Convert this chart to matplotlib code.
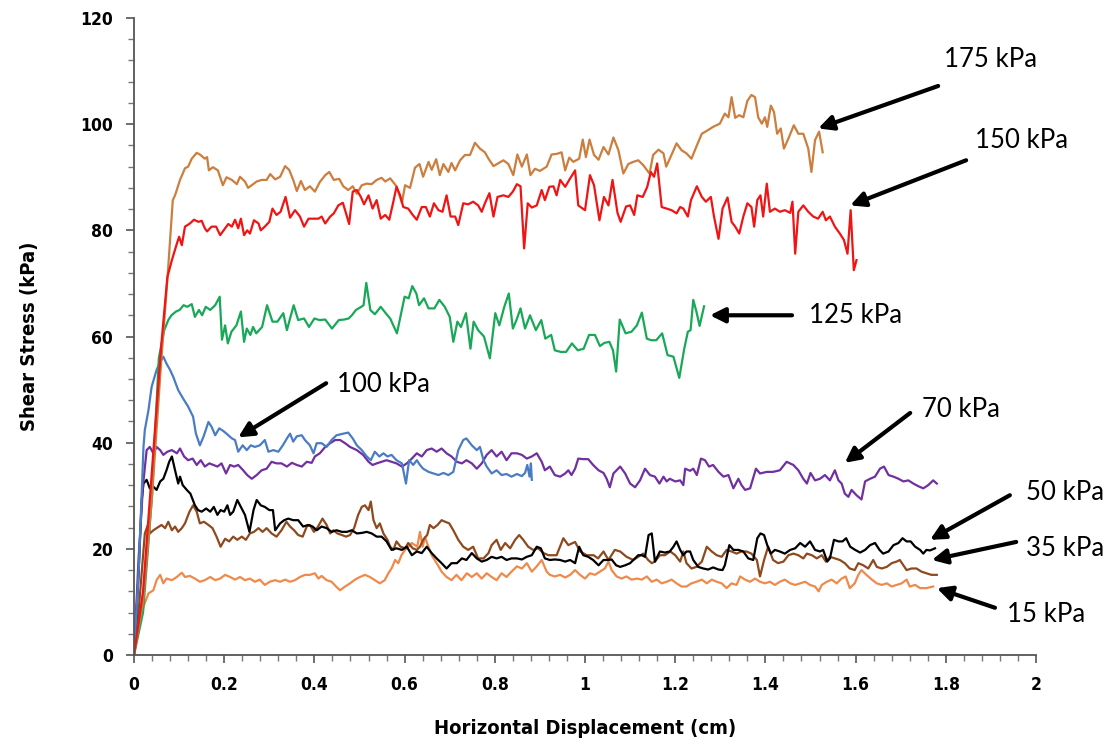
import matplotlib
matplotlib.use('Agg')
import matplotlib.pyplot as plt
import numpy as np
from matplotlib.ticker import MultipleLocator

# ---- data (x = displacement in cm, y = shear stress in kPa)
pts_175 = [(0, 0), (0.02, 10), (0.04, 30), (0.06, 55), (0.075, 72), (0.086, 85.7), (0.091, 86.6), (0.102, 89.5),
           (0.113, 91.7), (0.12, 92), (0.128, 93.5), (0.139, 94.6), (0.146, 94.3), (0.157, 93.5), (0.162, 93.8),
           (0.166, 91.3), (0.175, 91.9), (0.186, 91.3), (0.197, 88.5), (0.205, 90), (0.217, 89.5), (0.228, 88.7),
           (0.235, 90.1), (0.246, 89.2), (0.253, 88), (0.261, 88.5), (0.272, 89.2), (0.283, 89.5), (0.294, 89.5),
           (0.302, 90.6), (0.313, 89.6), (0.324, 90.1), (0.335, 92.1), (0.344, 91.4), (0.353, 89.5), (0.361, 87.4),
           (0.37, 89.3), (0.379, 87.6), (0.39, 88.3), (0.401, 87.3), (0.412, 89.1), (0.424, 90.4), (0.433, 91),
           (0.443, 89.5), (0.455, 89.7), (0.464, 88.3), (0.475, 87.6), (0.485, 88.3), (0.494, 86.9), (0.505, 88.5),
           (0.516, 88.8), (0.527, 88.7), (0.538, 89.5), (0.549, 89.9), (0.557, 89.2), (0.568, 89.8), (0.582, 88.3),
           (0.594, 85.2), (0.601, 88.5), (0.612, 88), (0.623, 91.8), (0.633, 92.5), (0.641, 90.1), (0.653, 92.9),
           (0.66, 91.4), (0.67, 93.4), (0.678, 90.4), (0.686, 92.5), (0.697, 91), (0.704, 92.7), (0.712, 91.3),
           (0.723, 93.2), (0.734, 94.2), (0.745, 94.2), (0.756, 96.5), (0.767, 95.4), (0.778, 94.7), (0.786, 93.5),
           (0.797, 92.1), (0.819, 93.2), (0.83, 92.5), (0.841, 90.4), (0.85, 94.3), (0.86, 92), (0.871, 94.3),
           (0.879, 90.4), (0.889, 91.6), (0.9, 91.2), (0.915, 92), (0.926, 94.3), (0.937, 94.4), (0.948, 94.7),
           (0.956, 91.3), (0.965, 93.7), (0.974, 92.9), (0.987, 93.5), (0.995, 97.1), (1.002, 93.8), (1.01, 97.1),
           (1.02, 94.2), (1.03, 93.3), (1.041, 95.7), (1.052, 94.3), (1.063, 97.5), (1.074, 95.1), (1.085, 90.7),
           (1.096, 92.5), (1.107, 92.9), (1.118, 93.2), (1.129, 92.3), (1.143, 90.7), (1.151, 94.2), (1.163, 95.2),
           (1.174, 94.5), (1.18, 92), (1.188, 93.5), (1.203, 96.4), (1.214, 95.1), (1.225, 94.5), (1.236, 93.5),
           (1.248, 96), (1.259, 98.2), (1.273, 98.9), (1.284, 99.5), (1.299, 100.1), (1.31, 102), (1.318, 101.3),
           (1.325, 105.1), (1.333, 101.2), (1.342, 101.7), (1.351, 101.3), (1.36, 104.4), (1.369, 105.5),
           (1.377, 105.1), (1.384, 101.3), (1.392, 100.1), (1.399, 101.3), (1.404, 99.5), (1.412, 103.5),
           (1.419, 102.3), (1.426, 98.2), (1.434, 99.2), (1.441, 95.4), (1.451, 97.3), (1.463, 99.8), (1.473, 98.2),
           (1.484, 98.2), (1.495, 95.4), (1.502, 91), (1.51, 97), (1.519, 98.6), (1.527, 94.7)]

pts_150 = [(0, 0), (0.02, 12), (0.04, 35), (0.06, 58), (0.074, 71.2), (0.084, 74.4), (0.095, 77.5), (0.1, 78.8),
           (0.106, 77.2), (0.113, 80.7), (0.124, 81.3), (0.133, 82), (0.143, 81.6), (0.15, 81.8), (0.157, 80.4),
           (0.162, 79.8), (0.172, 80.7), (0.182, 80.7), (0.191, 79.1), (0.202, 80.4), (0.209, 81.2), (0.217, 80.7),
           (0.224, 82), (0.231, 80.4), (0.237, 82.2), (0.244, 79.1), (0.251, 80), (0.257, 79.4), (0.266, 81.9),
           (0.276, 81.3), (0.281, 80), (0.29, 80.7), (0.3, 81.6), (0.307, 84.1), (0.316, 82.9), (0.325, 83.5),
           (0.336, 86.3), (0.346, 82.4), (0.357, 83.8), (0.368, 82.6), (0.377, 80.7), (0.387, 82.2), (0.398, 82.2),
           (0.409, 82.2), (0.416, 82.6), (0.424, 81.3), (0.435, 82.6), (0.443, 83.2), (0.453, 84.7), (0.463, 85.2),
           (0.468, 83.8), (0.477, 81.2), (0.485, 87.3), (0.494, 87.6), (0.503, 86.3), (0.51, 84.9), (0.52, 86.6),
           (0.529, 84.1), (0.538, 85.7), (0.547, 82.2), (0.557, 82.9), (0.566, 82), (0.575, 85.4), (0.582, 88.2),
           (0.59, 86.6), (0.597, 84.4), (0.608, 84.1), (0.618, 82.9), (0.627, 82), (0.638, 84.4), (0.647, 84.4),
           (0.656, 82.6), (0.665, 85.1), (0.675, 83.8), (0.684, 83.5), (0.693, 86.6), (0.702, 82.6), (0.712, 82.6),
           (0.719, 81), (0.73, 85.1), (0.741, 84.9), (0.752, 85.4), (0.763, 84.7), (0.771, 83.5), (0.778, 85.1),
           (0.788, 87), (0.797, 82.6), (0.806, 86.3), (0.819, 86.6), (0.83, 86.3), (0.84, 87.3), (0.849, 88.7),
           (0.857, 88.3), (0.865, 76.6), (0.873, 85.1), (0.882, 84.3), (0.893, 84.7), (0.904, 87.6), (0.911, 85.7),
           (0.921, 88.2), (0.93, 88.3), (0.937, 86.6), (0.945, 89.5), (0.956, 88.2), (0.965, 89.5), (0.978, 91.3),
           (0.985, 84.7), (1.0, 83.8), (1.011, 90.4), (1.02, 88.5), (1.032, 81.9), (1.042, 86.3), (1.052, 84.7),
           (1.061, 89.5), (1.072, 83.3), (1.079, 81.6), (1.091, 84.5), (1.1, 84.7), (1.109, 82.9), (1.116, 86.6),
           (1.128, 86.3), (1.138, 88.2), (1.146, 91), (1.153, 90.1), (1.16, 92.6), (1.17, 84.4), (1.181, 84.1),
           (1.192, 83.8), (1.203, 83.2), (1.211, 84.4), (1.218, 84.1), (1.228, 82.6), (1.235, 85.7), (1.248, 88.3),
           (1.259, 86.3), (1.268, 85.4), (1.279, 86.3), (1.286, 82.6), (1.296, 78.4), (1.305, 84.1), (1.316, 86.2),
           (1.325, 81.6), (1.333, 80.7), (1.342, 79.4), (1.351, 82.6), (1.36, 85.1), (1.369, 84.4), (1.375, 80.7),
           (1.382, 85.7), (1.389, 86.6), (1.395, 82.6), (1.403, 88.8), (1.41, 83.5), (1.421, 84.1), (1.432, 83.5),
           (1.443, 83.8), (1.455, 83.3), (1.46, 85.4), (1.466, 75.6), (1.473, 83.5), (1.484, 84.7), (1.495, 83.5),
           (1.506, 82.6), (1.517, 82.2), (1.527, 83.5), (1.534, 81.9), (1.543, 82.6), (1.554, 80.7), (1.565, 79.4),
           (1.574, 78.2), (1.582, 75.6), (1.589, 83.8), (1.596, 72.5), (1.602, 74.4)]

pts_125 = [(0, 0), (0.02, 8), (0.04, 30), (0.055, 55.9), (0.067, 61.2), (0.076, 63.1), (0.083, 64), (0.093, 64.7),
           (0.101, 65), (0.11, 65.9), (0.118, 65.6), (0.128, 66.1), (0.135, 63.7), (0.144, 65), (0.151, 64),
           (0.159, 65.6), (0.169, 65), (0.18, 65.9), (0.19, 67.5), (0.195, 59.4), (0.202, 62.1), (0.208, 58.7),
           (0.216, 60.9), (0.227, 62.1), (0.237, 64.7), (0.244, 59), (0.25, 61.5), (0.258, 60.3), (0.264, 61.8),
           (0.271, 60.6), (0.284, 61.8), (0.295, 65.9), (0.307, 62.8), (0.318, 62.8), (0.331, 64.4), (0.339, 61.2),
           (0.354, 65.9), (0.364, 63.1), (0.377, 63.4), (0.388, 61.8), (0.4, 63.4), (0.411, 63.1), (0.424, 63.2),
           (0.439, 61.5), (0.454, 63.1), (0.466, 63.2), (0.476, 63.4), (0.483, 64), (0.492, 65), (0.504, 65.6),
           (0.509, 65.9), (0.515, 70.1), (0.524, 65), (0.534, 64.2), (0.547, 65.6), (0.558, 64.4), (0.568, 63.4),
           (0.583, 60.6), (0.6, 67.5), (0.609, 67.2), (0.617, 69.5), (0.626, 68.1), (0.632, 65.9), (0.643, 67.2),
           (0.653, 65.3), (0.666, 65.3), (0.677, 66.9), (0.689, 65.6), (0.7, 63.7), (0.708, 59), (0.717, 62.8),
           (0.725, 61.8), (0.736, 64.4), (0.746, 57.7), (0.753, 62.8), (0.763, 61.2), (0.776, 60), (0.789, 55.9),
           (0.801, 64.4), (0.81, 62.1), (0.821, 65.6), (0.831, 68.1), (0.84, 61.5), (0.848, 63.1), (0.857, 65.3),
           (0.867, 61.5), (0.878, 64), (0.891, 61.2), (0.903, 63.1), (0.912, 59.6), (0.925, 60.3), (0.933, 57.4),
           (0.946, 57.1), (0.958, 57.1), (0.971, 58.7), (0.984, 57.4), (0.997, 57.7), (1.009, 60.3), (1.022, 60.3),
           (1.033, 58.2), (1.043, 58.8), (1.054, 59), (1.062, 57.4), (1.069, 53.4), (1.077, 63.2), (1.09, 60.6),
           (1.103, 60.9), (1.115, 62.1), (1.126, 64.5), (1.137, 59.6), (1.147, 59.3), (1.158, 59.3), (1.171, 60.6),
           (1.183, 56.5), (1.196, 56.2), (1.209, 52.2), (1.22, 57.7), (1.228, 60.9), (1.234, 61.2), (1.24, 66.9),
           (1.247, 64.7), (1.254, 62), (1.264, 65.7)]

pts_100 = [(0, 0), (0.01, 15), (0.021, 39.2), (0.024, 42.4), (0.032, 46.1), (0.039, 50.5), (0.05, 53.7),
           (0.058, 55.2), (0.065, 56.2), (0.072, 54.9), (0.08, 53.7), (0.087, 52.4), (0.098, 49.9), (0.109, 48.3),
           (0.12, 46.8), (0.131, 44.9), (0.137, 41.8), (0.146, 39.5), (0.154, 41.1), (0.165, 43.9), (0.172, 43),
           (0.18, 41.4), (0.189, 42.7), (0.198, 42.2), (0.205, 41.7), (0.217, 40.8), (0.224, 40.5), (0.231, 38.3),
           (0.241, 39.5), (0.25, 38.6), (0.259, 39.5), (0.268, 39.2), (0.279, 39.5), (0.29, 40.5), (0.298, 38.3),
           (0.309, 38.6), (0.32, 38.3), (0.33, 39.5), (0.339, 40.8), (0.346, 41.7), (0.353, 40.2), (0.361, 41.2),
           (0.372, 41.4), (0.379, 40.5), (0.39, 39.5), (0.398, 38), (0.405, 39.9), (0.416, 39.9), (0.427, 39.2),
           (0.438, 40.5), (0.449, 41.4), (0.464, 41.7), (0.475, 41.9), (0.485, 40.8), (0.494, 39.5), (0.505, 38.6),
           (0.516, 37.4), (0.525, 36.7), (0.534, 38.3), (0.544, 37.4), (0.553, 38), (0.562, 37.4), (0.571, 37.7),
           (0.582, 36.7), (0.594, 36.1), (0.603, 32.3), (0.61, 36.7), (0.619, 35.8), (0.627, 36.7), (0.634, 35.8),
           (0.641, 35.1), (0.653, 34.5), (0.664, 34.2), (0.675, 33.9), (0.686, 34.3), (0.697, 33.9), (0.708, 34.5),
           (0.719, 38.6), (0.73, 40.5), (0.737, 40.8), (0.749, 39.5), (0.76, 38.6), (0.767, 39.2), (0.775, 36.7),
           (0.782, 35.5), (0.793, 34.2), (0.804, 34.8), (0.815, 33.9), (0.826, 34.1), (0.837, 33.6), (0.849, 34.1),
           (0.86, 33.7), (0.867, 34.3), (0.872, 35.8), (0.877, 33.6), (0.88, 36.1), (0.882, 33)]

pts_70 = [(0, 0), (0.01, 18), (0.02, 32), (0.028, 38.6), (0.035, 39.2), (0.043, 38), (0.05, 39.2), (0.058, 38.6),
          (0.065, 37.7), (0.074, 38.3), (0.084, 38.6), (0.095, 38), (0.102, 38.9), (0.111, 37.4), (0.12, 36.7),
          (0.13, 37), (0.139, 35.8), (0.148, 36.7), (0.157, 35.5), (0.167, 36.1), (0.176, 35.8), (0.185, 35.5),
          (0.194, 36.1), (0.204, 34.2), (0.213, 35.8), (0.222, 35.5), (0.231, 35.8), (0.242, 34.8), (0.251, 33.9),
          (0.261, 33.2), (0.272, 33.9), (0.283, 34.8), (0.294, 35.1), (0.305, 36.4), (0.316, 36.1), (0.327, 36.1),
          (0.339, 35.5), (0.35, 36.2), (0.361, 35.8), (0.372, 35.5), (0.383, 36.4), (0.394, 36.2), (0.401, 37.4),
          (0.412, 38), (0.424, 39.2), (0.435, 39.9), (0.446, 40.5), (0.457, 40.5), (0.468, 39.9), (0.479, 39.2),
          (0.494, 38.6), (0.508, 37.7), (0.52, 36.4), (0.529, 35.8), (0.538, 36.1), (0.549, 36.4), (0.56, 36.7),
          (0.571, 36.4), (0.582, 36.1), (0.594, 35.5), (0.605, 36.1), (0.616, 37), (0.627, 38), (0.638, 37.4),
          (0.649, 38.6), (0.66, 38.9), (0.671, 38.3), (0.682, 38.9), (0.693, 38), (0.704, 37.4), (0.716, 36.4),
          (0.727, 36.1), (0.737, 36.7), (0.749, 36.1), (0.76, 35.1), (0.771, 36.1), (0.782, 37.7), (0.793, 38.6),
          (0.804, 37.4), (0.815, 38.3), (0.826, 36.7), (0.837, 38), (0.849, 38), (0.86, 37.7), (0.871, 37),
          (0.882, 37.4), (0.893, 38), (0.904, 36.4), (0.911, 34.8), (0.922, 35.5), (0.933, 33.9), (0.945, 33.6),
          (0.956, 34.2), (0.963, 34.8), (0.97, 33.9), (0.978, 35.1), (0.985, 37), (0.996, 36.9), (1.007, 36.9),
          (1.018, 35.8), (1.03, 34.8), (1.041, 34.3), (1.048, 33.2), (1.055, 31.6), (1.063, 34.2), (1.078, 35.5),
          (1.089, 34.2), (1.1, 32.3), (1.111, 31.6), (1.122, 32.9), (1.133, 35.1), (1.144, 33.9), (1.155, 33.6),
          (1.165, 32.3), (1.174, 33.6), (1.181, 32.7), (1.188, 33.2), (1.2, 32.7), (1.211, 32.9), (1.218, 32),
          (1.222, 35.1), (1.233, 34.7), (1.24, 35.1), (1.248, 33.9), (1.257, 37), (1.266, 36.7), (1.275, 35.5),
          (1.284, 35.8), (1.296, 34.5), (1.307, 33.6), (1.318, 33.9), (1.329, 31.4), (1.34, 33.2), (1.347, 32),
          (1.355, 31.1), (1.366, 31.4), (1.379, 35.1), (1.388, 34.2), (1.403, 34.5), (1.417, 34.5), (1.432, 34.8),
          (1.447, 36.4), (1.462, 35.8), (1.473, 34.8), (1.484, 33.2), (1.492, 32.3), (1.5, 34.3), (1.51, 32.9),
          (1.521, 33.2), (1.532, 33.9), (1.543, 32.9), (1.554, 34.8), (1.562, 32.9), (1.569, 32.3), (1.576, 30.4),
          (1.584, 29.8), (1.591, 31.1), (1.602, 30.1), (1.613, 29.3), (1.621, 32.7), (1.632, 33.2), (1.643, 33.6),
          (1.654, 35.1), (1.663, 35.5), (1.673, 33.9), (1.684, 33.6), (1.695, 33.2), (1.706, 32.7), (1.717, 32.9),
          (1.728, 32.3), (1.739, 31.8), (1.75, 31.4), (1.761, 32), (1.772, 32.9), (1.78, 32.3)]

pts_50 = [(0, 0), (0.01, 15), (0.017, 29.2), (0.021, 32.3), (0.028, 33), (0.035, 31.4), (0.043, 31.7), (0.05, 31.1),
          (0.058, 32.7), (0.065, 33.2), (0.072, 34.8), (0.078, 36.4), (0.084, 37.4), (0.091, 34.8), (0.098, 32.3),
          (0.102, 33.6), (0.108, 32), (0.117, 31.1), (0.125, 30.4), (0.135, 28.2), (0.142, 27.3), (0.15, 27),
          (0.16, 27.6), (0.169, 27), (0.177, 27.9), (0.185, 26.4), (0.192, 27.3), (0.2, 27), (0.207, 28.2),
          (0.213, 26.4), (0.22, 27), (0.229, 29.2), (0.237, 27.9), (0.246, 26.4), (0.256, 23.2), (0.265, 27.3),
          (0.272, 29.2), (0.281, 28.2), (0.29, 27.9), (0.3, 27.3), (0.308, 27.3), (0.313, 23.5), (0.324, 24.8),
          (0.333, 25.4), (0.342, 25.7), (0.353, 25.4), (0.364, 25.4), (0.375, 24.2), (0.386, 24.5), (0.396, 24.2),
          (0.405, 23.5), (0.416, 24.2), (0.427, 23.9), (0.438, 23.2), (0.449, 23.5), (0.461, 23.2), (0.472, 23.2),
          (0.483, 23.5), (0.494, 22.9), (0.505, 23), (0.516, 23.2), (0.527, 22.9), (0.538, 22.3), (0.549, 22.3),
          (0.56, 21.4), (0.571, 19.8), (0.582, 20.1), (0.594, 19.8), (0.605, 20.4), (0.616, 18.8), (0.627, 19.5),
          (0.638, 19.2), (0.649, 20.4), (0.66, 19.2), (0.671, 18.2), (0.682, 17.3), (0.693, 16.3), (0.704, 17.3),
          (0.716, 17.3), (0.727, 18.2), (0.737, 17.9), (0.749, 19.2), (0.76, 18.2), (0.771, 17.6), (0.782, 17.9),
          (0.793, 18.5), (0.804, 18.2), (0.815, 18.5), (0.826, 17.9), (0.837, 18.2), (0.849, 18.2), (0.86, 18),
          (0.871, 18.5), (0.882, 18.8), (0.893, 20.4), (0.902, 20.1), (0.911, 18.2), (0.922, 17.9), (0.933, 18),
          (0.945, 17.9), (0.956, 17.6), (0.967, 17.9), (0.978, 17.3), (0.987, 20.4), (0.996, 18.8), (1.007, 18.5),
          (1.018, 17.9), (1.03, 16.9), (1.041, 17.9), (1.052, 17.9), (1.059, 18), (1.069, 16.9), (1.078, 16.6),
          (1.089, 16.9), (1.1, 17.3), (1.111, 18.2), (1.118, 18.8), (1.126, 18.8), (1.133, 18.5), (1.141, 22.6),
          (1.148, 22.9), (1.155, 17.6), (1.166, 19.5), (1.177, 19.3), (1.188, 19.5), (1.196, 20.4), (1.203, 21.4),
          (1.211, 19.8), (1.218, 18.8), (1.225, 19.5), (1.233, 19.5), (1.24, 17.9), (1.251, 16.6), (1.262, 16.3),
          (1.273, 16.1), (1.284, 16.5), (1.296, 16.1), (1.305, 16), (1.31, 16.9), (1.32, 20.7), (1.329, 19.8),
          (1.34, 19.8), (1.351, 19.5), (1.362, 18.2), (1.373, 17.9), (1.382, 22), (1.389, 22.9), (1.397, 22.6),
          (1.404, 20.7), (1.412, 19.1), (1.421, 19.8), (1.432, 19.5), (1.443, 19.1), (1.455, 19.8), (1.466, 20.1),
          (1.477, 21.1), (1.488, 20.4), (1.499, 21.4), (1.51, 19.8), (1.521, 19.5), (1.528, 19.8), (1.537, 17.6),
          (1.543, 18.2), (1.552, 21.7), (1.562, 21.4), (1.571, 21.4), (1.579, 22), (1.588, 20.4), (1.599, 19.8),
          (1.61, 19.3), (1.621, 19.8), (1.632, 20.7), (1.643, 21.1), (1.653, 19.8), (1.661, 19.1), (1.673, 19.5),
          (1.684, 20.7), (1.695, 21.1), (1.704, 22), (1.713, 21.4), (1.722, 21.4), (1.732, 20.4), (1.743, 19.8),
          (1.75, 19.1), (1.757, 19.8), (1.765, 19.7), (1.776, 20.1)]

pts_35 = [(0, 0), (0.01, 8), (0.024, 22.9), (0.032, 24.8), (0.035, 22.9), (0.043, 23.5), (0.05, 23.9), (0.061, 24.5),
          (0.069, 23.9), (0.076, 25.1), (0.084, 23.5), (0.091, 24.2), (0.098, 23.2), (0.106, 23.9), (0.113, 24.8),
          (0.123, 27), (0.131, 28.2), (0.139, 27), (0.146, 24.8), (0.155, 25.1), (0.165, 24.5), (0.174, 23.9),
          (0.183, 22.3), (0.192, 20.4), (0.202, 21.9), (0.211, 21.4), (0.22, 22.3), (0.229, 21.7), (0.239, 22.3),
          (0.248, 21.7), (0.257, 22.9), (0.266, 23.2), (0.276, 23.9), (0.285, 23.2), (0.294, 23.9), (0.305, 22.9),
          (0.316, 22.3), (0.327, 23.5), (0.338, 25.1), (0.346, 24.2), (0.355, 23.5), (0.364, 22.6), (0.374, 22.3),
          (0.383, 24.2), (0.39, 24.5), (0.399, 23.2), (0.408, 24.2), (0.418, 25.7), (0.427, 24.5), (0.435, 22.9),
          (0.442, 23.5), (0.451, 22.9), (0.461, 22.6), (0.47, 22.3), (0.479, 22.6), (0.488, 23.9), (0.497, 26.4),
          (0.505, 27.9), (0.512, 28.2), (0.52, 27.3), (0.525, 28.9), (0.531, 25.4), (0.538, 23.9), (0.545, 24.8),
          (0.553, 22.9), (0.562, 21.7), (0.568, 20.4), (0.575, 19.8), (0.582, 21.4), (0.591, 20.4), (0.601, 20.1),
          (0.608, 21.1), (0.618, 20.1), (0.627, 19.8), (0.634, 20.4), (0.641, 21.7), (0.65, 22.6), (0.656, 24.5),
          (0.664, 23.9), (0.673, 24.5), (0.682, 25.4), (0.69, 25.1), (0.699, 24.8), (0.708, 23.5), (0.719, 21.7),
          (0.73, 20.4), (0.741, 19.8), (0.752, 20.4), (0.763, 18.2), (0.775, 18.2), (0.786, 19.2), (0.793, 20.7),
          (0.804, 21.7), (0.813, 19.8), (0.823, 21.1), (0.834, 20.1), (0.845, 21.7), (0.854, 22.6), (0.863, 21.7),
          (0.874, 20.4), (0.885, 19.8), (0.896, 20.1), (0.908, 19.2), (0.919, 18.8), (0.937, 18.8), (0.952, 22),
          (0.963, 20.7), (0.978, 21.3), (0.989, 19.5), (1.004, 18.8), (1.019, 18.8), (1.029, 18.2), (1.041, 19.5),
          (1.052, 17.9), (1.066, 19.8), (1.078, 19.5), (1.092, 18.5), (1.107, 17.9), (1.118, 18.5), (1.129, 19.1),
          (1.14, 17.9), (1.148, 17.3), (1.155, 17.6), (1.166, 18.8), (1.177, 18.8), (1.189, 19.5), (1.2, 18.8),
          (1.211, 17.6), (1.218, 19.5), (1.225, 17.3), (1.236, 16.3), (1.247, 16.6), (1.259, 17.6), (1.27, 20.4),
          (1.281, 19.5), (1.292, 18.8), (1.303, 18.5), (1.314, 19.8), (1.325, 19.5), (1.336, 19.1), (1.347, 19.5),
          (1.358, 19.5), (1.369, 19.1), (1.381, 17.9), (1.388, 14.8), (1.397, 17.9), (1.406, 20.4), (1.417, 17.9),
          (1.428, 17.3), (1.44, 17.6), (1.451, 18.8), (1.462, 19.1), (1.473, 18.8), (1.484, 18.2), (1.492, 19.1),
          (1.503, 18.8), (1.514, 18.2), (1.525, 18.8), (1.534, 17.6), (1.543, 18.5), (1.554, 18.2), (1.565, 17.9),
          (1.576, 17.3), (1.587, 16.3), (1.598, 16), (1.606, 17.3), (1.617, 16.9), (1.628, 16.3), (1.639, 17.9),
          (1.647, 16.6), (1.658, 16.3), (1.669, 16.6), (1.68, 17.3), (1.691, 17.6), (1.698, 17.9), (1.706, 16.9),
          (1.713, 16), (1.724, 16.3), (1.735, 16.3), (1.746, 15.7), (1.757, 15.4), (1.768, 15.1), (1.78, 15.1)]

pts_15 = [(0, 0), (0.006, 3.4), (0.021, 9.1), (0.032, 11.6), (0.043, 12.2), (0.05, 14.1), (0.058, 15.1), (0.065, 13.5),
          (0.072, 14.4), (0.084, 14.1), (0.095, 14.7), (0.106, 15.5), (0.113, 14.7), (0.124, 14.9), (0.135, 14.4),
          (0.146, 13.8), (0.157, 14.1), (0.169, 14.7), (0.18, 14.1), (0.191, 14.4), (0.202, 15.1), (0.213, 14.7),
          (0.224, 14.2), (0.235, 14.7), (0.246, 14.1), (0.257, 14.4), (0.268, 13.8), (0.279, 14.2), (0.29, 13.2),
          (0.301, 13.8), (0.313, 14.1), (0.324, 13.8), (0.335, 14.2), (0.346, 13.8), (0.357, 14.1), (0.368, 14.7),
          (0.379, 15.1), (0.39, 15.1), (0.401, 15.4), (0.409, 14.4), (0.416, 14.9), (0.427, 14.1), (0.438, 13.8),
          (0.448, 12.9), (0.457, 12.2), (0.468, 12.9), (0.479, 13.5), (0.49, 14.2), (0.501, 14.7), (0.512, 15.1),
          (0.523, 14.7), (0.534, 14.1), (0.545, 13.5), (0.556, 14.1), (0.564, 15.4), (0.571, 16.3), (0.579, 17.9),
          (0.586, 17.3), (0.593, 18.8), (0.601, 19.8), (0.608, 20.4), (0.616, 21.1), (0.623, 20.7), (0.628, 20.4),
          (0.634, 23.2), (0.64, 20.4), (0.645, 22.2), (0.653, 20.4), (0.66, 18.8), (0.671, 17.3), (0.682, 15.7),
          (0.693, 14.7), (0.704, 14.1), (0.715, 15.1), (0.726, 14.1), (0.738, 15.4), (0.749, 14.7), (0.76, 15.4),
          (0.771, 14.4), (0.782, 15.4), (0.793, 14.7), (0.804, 14.1), (0.815, 15.4), (0.826, 14.7), (0.837, 15.7),
          (0.849, 16.7), (0.86, 16.3), (0.871, 17.3), (0.882, 15.7), (0.893, 16.7), (0.904, 17.9), (0.915, 15.7),
          (0.922, 15.1), (0.933, 14.8), (0.945, 15.1), (0.956, 14.6), (0.967, 15.1), (0.978, 16), (0.989, 15.1),
          (1.0, 14.4), (1.011, 15.4), (1.022, 15.1), (1.033, 15.7), (1.044, 16.3), (1.052, 17.6), (1.059, 16),
          (1.07, 14.8), (1.081, 14.4), (1.092, 14.8), (1.103, 14.2), (1.115, 14.4), (1.126, 14.2), (1.137, 14.8),
          (1.148, 13.8), (1.159, 14.2), (1.17, 13.5), (1.181, 13.8), (1.192, 14.2), (1.203, 13.5), (1.214, 12.9),
          (1.225, 12.9), (1.236, 13.5), (1.247, 13.8), (1.259, 14.2), (1.27, 13.5), (1.281, 14.2), (1.292, 13.8),
          (1.303, 13.5), (1.314, 12.6), (1.325, 13.5), (1.336, 13.2), (1.344, 14.8), (1.355, 14.2), (1.366, 13.8),
          (1.377, 14.4), (1.388, 13.8), (1.399, 13.5), (1.41, 13.8), (1.421, 13.2), (1.432, 13.8), (1.443, 14.2),
          (1.455, 13.5), (1.466, 13.2), (1.477, 13.5), (1.488, 13.8), (1.499, 13.2), (1.51, 12.9), (1.518, 12),
          (1.525, 13.2), (1.536, 13.8), (1.547, 14.2), (1.558, 13.5), (1.569, 14.4), (1.578, 14.8), (1.587, 12.6),
          (1.598, 13.5), (1.606, 15.1), (1.613, 16), (1.624, 15.1), (1.636, 14.2), (1.647, 13.5), (1.658, 13.2),
          (1.669, 13.5), (1.68, 12.9), (1.691, 13.2), (1.702, 13.5), (1.713, 14.2), (1.72, 12.9), (1.732, 13.2),
          (1.743, 12.6), (1.757, 12.6), (1.772, 12.9)]

# series drawn bottom -> top
series = [
    (pts_15, '#EE8A4C'),
    (pts_35, '#8E4A1E'),
    (pts_50, '#000000'),
    (pts_70, '#7030A0'),
    (pts_100, '#4A7CC4'),
    (pts_125, '#19A857'),
    (pts_175, '#CC7E3E'),
    (pts_150, '#F01414'),
]

# labels: text, text position, arrow tail, arrow head (data units)
labels = ['175 kPa', '150 kPa', '125 kPa', '100 kPa', '70 kPa', '50 kPa', '35 kPa', '15 kPa']
label_xy = [(1.90, 112.1), (1.967, 97.0), (1.60, 64.0), (0.552, 51.0), (1.834, 46.3), (2.064, 30.7), (2.064, 20.0), (2.022, 7.7)]
arrow_tail = [(1.783, 107.2), (1.845, 93.2), (1.459, 64.0), (0.426, 51.2), (1.721, 45.6), (1.942, 30.1), (1.956, 21.3), (1.909, 8.9)]
arrow_head = [(1.517, 99.2), (1.588, 84.7), (1.277, 64.0), (0.231, 41.0), (1.576, 36.2), (1.765, 21.7), (1.769, 17.9), (1.78, 12.6)]

tick_font = dict(family='DejaVu Sans', stretch='condensed', weight='bold')

fig = plt.figure(figsize=(11.14, 7.45), dpi=100)
ax = fig.add_axes([0.1203, 0.1208, 0.8097, 0.855])

for pts, col in series:
    x, y = np.array(pts).T
    ax.plot(x, y, color=col, lw=1.6)

for txt, pos, tail, head in zip(labels, label_xy, arrow_tail, arrow_head):
    ax.annotate('', xy=head, xytext=tail,
                arrowprops=dict(arrowstyle='-|>', lw=3, color='black', mutation_scale=22,
                                shrinkA=0, shrinkB=0), annotation_clip=False)
    ax.text(pos[0], pos[1], txt, fontsize=18.5, family=['Lato', 'DejaVu Sans'],
            ha='center', va='center', clip_on=False)

ax.set_xlim(0, 2)
ax.set_ylim(0, 120)
ax.xaxis.set_minor_locator(MultipleLocator(0.04))
ax.yaxis.set_major_locator(MultipleLocator(20))
ax.yaxis.set_minor_locator(MultipleLocator(4))
ax.set_xticks(np.arange(0, 2.01, 0.2))
ax.set_xticklabels(['0', '0.2', '0.4', '0.6', '0.8', '1', '1.2', '1.4', '1.6', '1.8', '2'])

for sp in ['top', 'right']:
    ax.spines[sp].set_visible(False)
for sp in ['left', 'bottom']:
    ax.spines[sp].set_linewidth(1.3)
    ax.spines[sp].set_color('#555555')

ax.tick_params(which='major', direction='out', length=6, width=1.2, color='#555555', pad=9)
ax.tick_params(which='minor', direction='out', length=4, width=1.0, color='#777777')
for lab in ax.get_xticklabels() + ax.get_yticklabels():
    lab.set_fontproperties(tick_font)
    lab.set_fontsize(12.5)

ax.set_xlabel('Horizontal Displacement (cm)', fontsize=14.5, labelpad=18, **tick_font)
ax.set_ylabel('Shear Stress (kPa)', fontsize=14.5, labelpad=30, **tick_font)

fig.savefig('out.png', dpi=100)
